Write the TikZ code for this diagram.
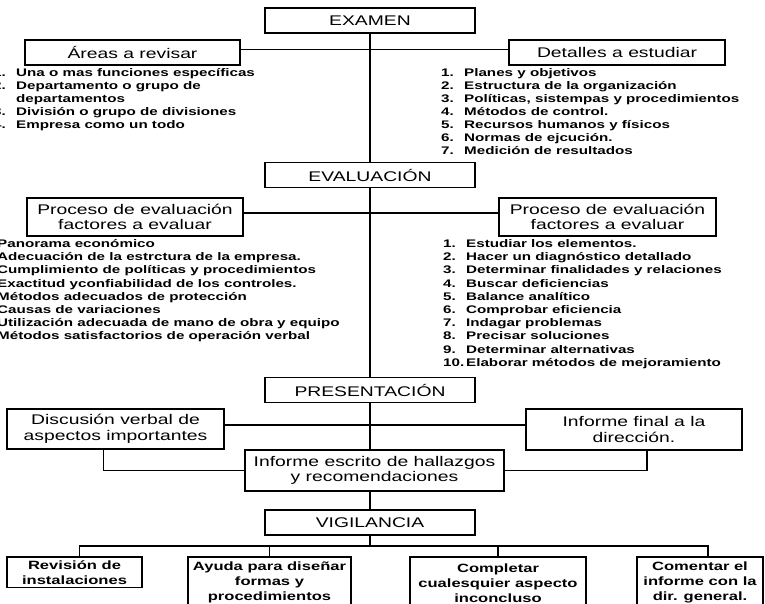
\documentclass[tikz,border=0pt]{standalone}
\usepackage{fontspec}
\setmainfont{Liberation Sans}
\newfontfamily\caja[FakeStretch=1.38]{Liberation Sans}

\begin{document}
\begin{tikzpicture}[x=1pt, y=-1pt,
    titulo/.style={draw, line width=1.5pt, inner sep=0pt, align=center,
      font=\caja\fontsize{14}{15.5}\selectfont},
    fase/.style={titulo, minimum width=210pt, minimum height=25pt},
    hoja/.style={draw, line width=1.5pt, anchor=north, align=center,
      inner xsep=2pt, inner ysep=3.5pt,
      font=\caja\bfseries\fontsize{12}{15}\selectfont},
    item/.style={anchor=base west, inner sep=0pt,
      font=\caja\bfseries\fontsize{11}{13}\selectfont},
    con/.style={line width=1.3pt}]
    \useasboundingbox (0,0) rectangle (765,603);

    % fases principales
    \node[fase] (examen) at (370,20.5) {EXAMEN};
    \node[fase] (evaluacion) at (370,175) {EVALUACIÓN};
    \node[fase] (presentacion) at (370,390) {PRESENTACIÓN};
    \node[fase] (vigilancia) at (370,522.5) {VIGILANCIA};

    % examen
    \node[titulo, minimum width=215pt, minimum height=25pt] (areas) at (132.5,52.5) {Áreas a revisar};
    \node[titulo, minimum width=216pt, minimum height=25pt] (detalles) at (617,52.5) {Detalles a estudiar};
    \foreach \n/\t [count=\i] in {1./Una o mas funciones específicas, 2./Departamento o grupo de,
        /departamentos, 3./División o grupo de divisiones, 4./Empresa como un todo}
      \node[item] (areas-\i) at (-7,{76.5+13*(\i-1)}) {\makebox[23pt][l]{\n}\t};
    \foreach \n/\t [count=\i] in {1./Planes y objetivos, 2./Estructura de la organización,
        3./{Políticas, sistempas y procedimientos}, 4./Métodos de control.,
        5./Recursos humanos y físicos, 6./Normas de ejcución., 7./Medición de resultados}
      \node[item] (detalles-\i) at (441,{76.5+13*(\i-1)}) {\makebox[23pt][l]{\n}\t};

    % evaluacion
    \node[titulo, minimum width=216pt, minimum height=38pt] (procI) at (135,217) {Proceso de evaluación\\factores a evaluar};
    \node[titulo, minimum width=217pt, minimum height=38pt] (procD) at (607.5,217) {Proceso de evaluación\\factores a evaluar};
    \foreach \t [count=\i] in {Panorama económico, Adecuación de la estrctura de la empresa.,
        Cumplimiento de políticas y procedimientos, Exactitud yconfiabilidad de los controles.,
        Métodos adecuados de protección, Causas de variaciones,
        Utilización adecuada de mano de obra y equipo, Métodos satisfactorios de operación verbal}
      \node[item] (factI-\i) at (-3,{247.5+13.2*(\i-1)}) {\t};
    \foreach \n/\t [count=\i] in {1./Estudiar los elementos., 2./Hacer un diagnóstico detallado,
        3./Determinar finalidades y relaciones, 4./Buscar deficiencias, 5./Balance analítico,
        6./Comprobar eficiencia, 7./Indagar problemas, 8./Precisar soluciones,
        9./Determinar alternativas, 10./Elaborar métodos de mejoramiento}
      \node[item] (factD-\i) at (443,{247.5+13.2*(\i-1)}) {\makebox[23pt][l]{\n}\t};

    % presentacion
    \node[titulo, minimum width=217pt, minimum height=40pt] (discusion) at (115.5,429) {Discusión verbal de\\aspectos importantes};
    \node[titulo, minimum width=216pt, minimum height=41pt] (final) at (634,429.5) {Informe final a la\\dirección.};
    \node[titulo, minimum width=259pt, minimum height=41pt] (escrito) at (374.5,470.5) {Informe escrito de hallazgos\\y recomendaciones};

    % vigilancia
    \coordinate (bus) at (370,546);
    \node[hoja, minimum width=135pt] (revision) at (74.5,556) {Revisión de\\instalaciones};
    \node[hoja, minimum width=163pt, minimum height=52pt] (ayuda) at (269.5,556) {Ayuda para diseñar\\formas y\\procedimientos};
    \node[hoja, minimum width=176pt, minimum height=52pt] (completar) at (498,556) {Completar\\cualesquier aspecto\\inconcluso};
    \node[hoja, minimum width=126pt, minimum height=52pt] (comentar) at (700,556) {Comentar el\\informe con la\\dir. general.};

    % tronco central
    \draw[con] (examen) -- (evaluacion);
    \draw[con] (evaluacion) -- (presentacion);
    \draw[con] (presentacion.south) -- (presentacion.south |- escrito.north);
    \draw[con] (vigilancia.north |- escrito.south) -- (vigilancia.north);
    \draw[con] (vigilancia) -- (bus);

    % ramas
    \draw[con] ([yshift=3pt]areas.east) -- ([yshift=3pt]areas.east -| detalles.west);
    \draw[con] ([yshift=4pt]procI.east) -- ([yshift=4pt]procI.east -| procD.west);
    \draw[con] ([yshift=4pt]discusion.east) -- ([yshift=4pt]discusion.east -| final.west);
    \draw[con] ([xshift=-12pt]discusion.south) |- (escrito.west);
    \draw[con] ([xshift=13pt]final.south) |- (escrito.east);
    \draw[con] ([xshift=5pt]revision.north) |- (bus) -| ([xshift=8pt]comentar.north);
    \draw[con] (ayuda.north) -- (ayuda.north |- bus);
    \draw[con] (completar.north) -- (completar.north |- bus);
\end{tikzpicture}
\end{document}
